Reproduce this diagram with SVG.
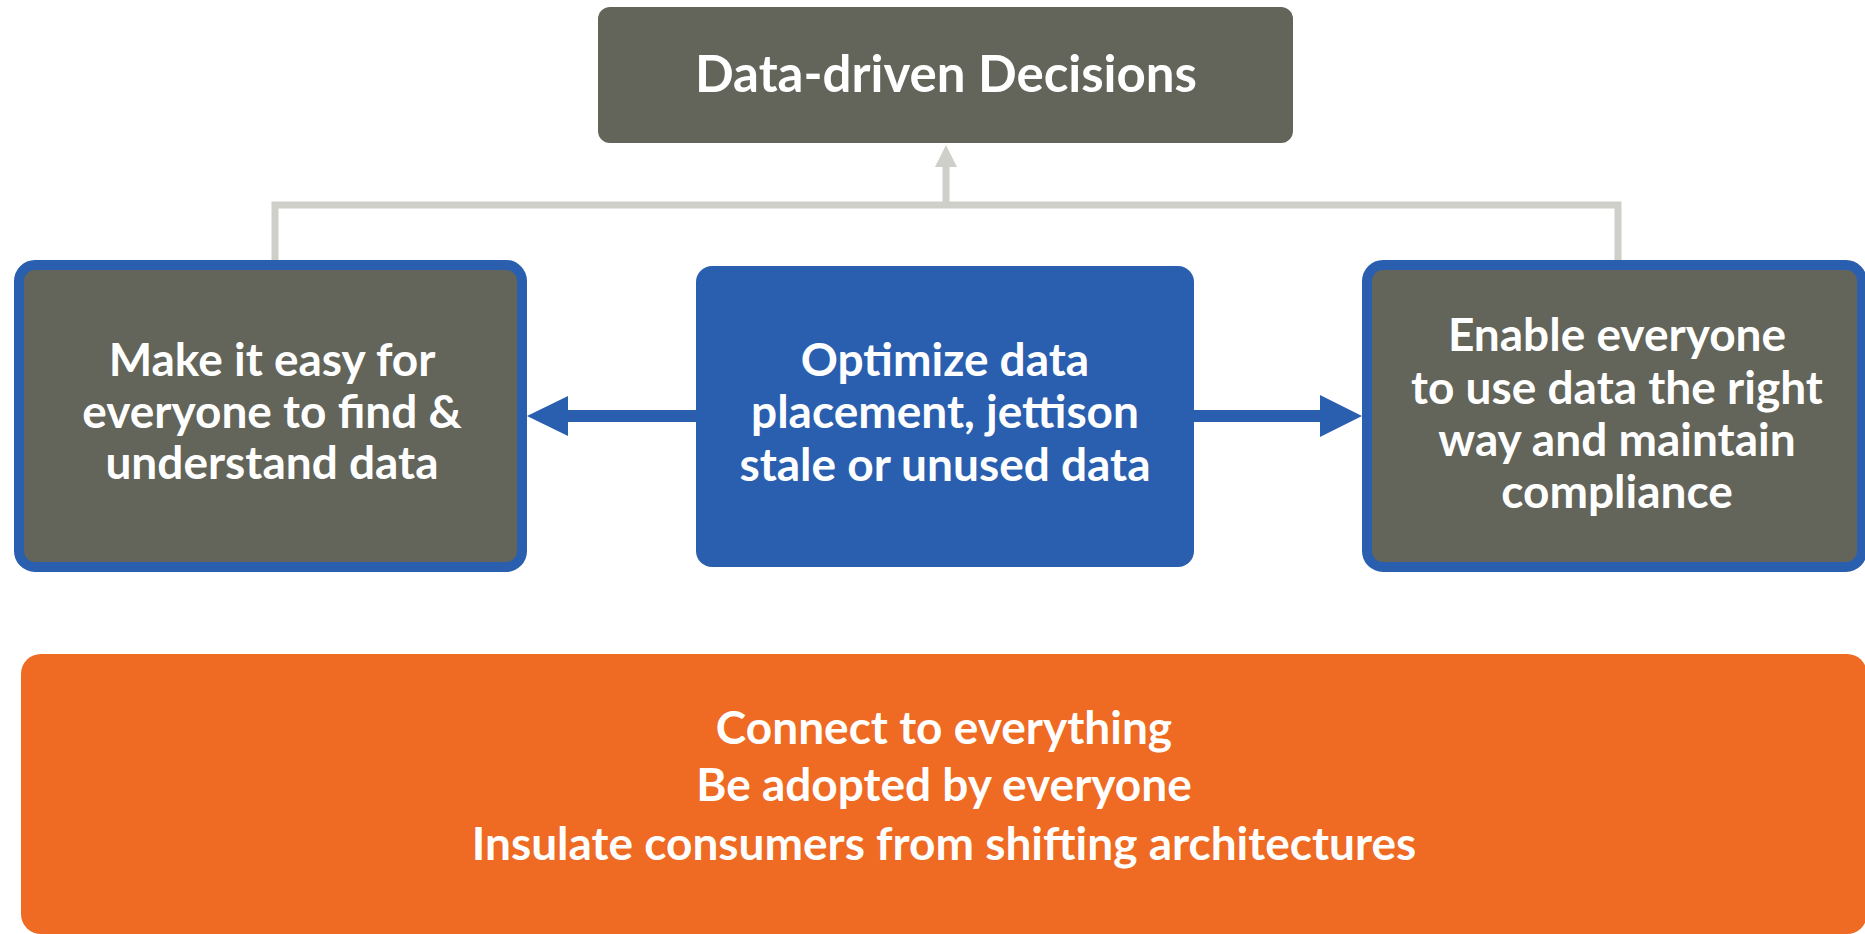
<svg xmlns="http://www.w3.org/2000/svg" width="1865" height="934" viewBox="0 0 1865 934">
<style>
.lbl{font-family:Lato,"Open Sans","Liberation Sans",sans-serif;font-weight:700;fill:#ffffff;text-anchor:middle;font-size:46px}
.grey{fill:#63645A}
.bordered{fill:#63645A;stroke:#2A5FAF;stroke-width:10}
.conn{fill:none;stroke:#CDCFC8;stroke-width:7}
.blue{fill:#2A5FAF}
</style>
<g id="connectors">
<path class="conn" d="M275,260 V205 H1618 V260"/>
<path class="conn" d="M946,205 V166"/>
<path d="M946,145 L935,167 L957,167 Z" fill="#CDCFC8"/>
<path class="blue" d="M696,410 H568 V396 L527,416 L568,436 V422 H696 Z"/>
<path class="blue" d="M1194,410 H1320 V395 L1362,416 L1320,437 V422 H1194 Z"/>
</g>
<g id="node-decisions">
<rect class="grey" x="598" y="7" width="695" height="136" rx="12"/>
<text class="lbl" x="946" y="92" style="font-size:51px">Data-driven Decisions</text>
</g>
<g id="node-find">
<rect class="bordered" x="19" y="265" width="503" height="302" rx="16"/>
<text class="lbl" x="272" y="376">Make it easy for</text>
<text class="lbl" x="272" y="428">everyone to find &amp;</text>
<text class="lbl" x="272" y="479">understand data</text>
</g>
<g id="node-optimize">
<rect class="blue" x="696" y="266" width="498" height="301" rx="16"/>
<text class="lbl" x="945" y="376">Optimize data</text>
<text class="lbl" x="945" y="428">placement, jettison</text>
<text class="lbl" x="945" y="481">stale or unused data</text>
</g>
<g id="node-enable">
<rect class="bordered" x="1367" y="265" width="495" height="302" rx="16"/>
<text class="lbl" x="1617" y="351">Enable everyone</text>
<text class="lbl" x="1617" y="404">to use data the right</text>
<text class="lbl" x="1617" y="456">way and maintain</text>
<text class="lbl" x="1617" y="508">compliance</text>
</g>
<g id="node-connect">
<rect x="21" y="654" width="1846" height="280" rx="20" fill="#EF6A22"/>
<text class="lbl" x="944" y="744">Connect to everything</text>
<text class="lbl" x="944" y="801">Be adopted by everyone</text>
<text class="lbl" x="944" y="860">Insulate consumers from shifting architectures</text>
</g>
</svg>
